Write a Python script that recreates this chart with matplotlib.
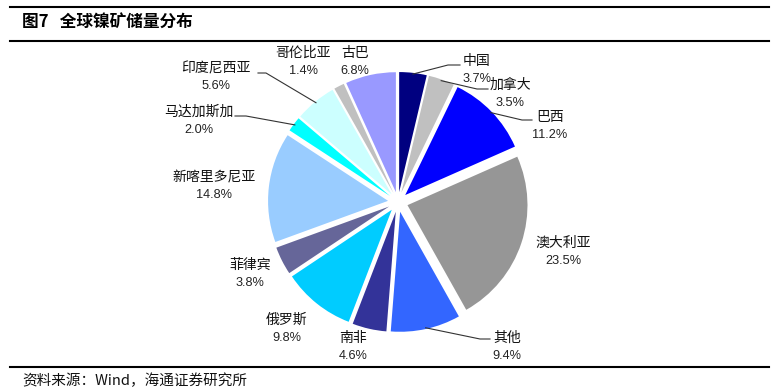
import matplotlib
matplotlib.use("Agg")
import matplotlib.pyplot as plt
from matplotlib.lines import Line2D
import numpy as np

# ---------------- data ----------------
countries = ["中国", "加拿大", "巴西", "澳大利亚", "其他", "南非", "俄罗斯",
             "菲律宾", "新喀里多尼亚", "马达加斯加", "印度尼西亚", "哥伦比亚", "古巴"]
shares = [3.7, 3.5, 11.2, 23.5, 9.4, 4.6, 9.8, 3.8, 14.8, 2.0, 5.6, 1.4, 6.8]
colors = ["#000080", "#C0C0C0", "#0000FF", "#969696", "#3366FF", "#333399", "#00CCFF",
          "#666699", "#99CCFF", "#00FFFF", "#CCFFFF", "#C0C0C0", "#9999FF"]
title = "图7   全球镍矿储量分布"
source = "资料来源：Wind，海通证券研究所"

# ---------------- layout ----------------
W, H, DPI = 781, 391, 100
fig = plt.figure(figsize=(W / DPI, H / DPI), dpi=DPI)
fig.patch.set_facecolor("white")

PX = 120.0           # pixels per pie unit (radius)
cx, cy = 398, 202    # pie centre in pixels (from top-left)
aw, ah = 600, 340
ax = fig.add_axes([(cx - aw / 2) / W, (H - cy - ah / 2) / H, aw / W, ah / H])
explode_frac = 10 / PX
wedges, _ = ax.pie(shares, colors=colors, startangle=90, counterclock=False,
                   explode=[explode_frac] * len(shares), radius=1.0,
                   wedgeprops=dict(linewidth=0))
ax.set_xlim(-aw / 2 / PX, aw / 2 / PX)
ax.set_ylim(-ah / 2 / PX, ah / 2 / PX)
ax.set_aspect("equal")
ax.axis("off")

def to_units(px, py):
    return ((px - cx) / PX, (cy - py) / PX)

# label name-centre positions in pixels (layout)
name_pos = {
    "中国": (477, 61), "加拿大": (510, 85), "巴西": (550, 117), "澳大利亚": (563, 243),
    "其他": (507, 338), "南非": (353, 338), "俄罗斯": (287, 320), "菲律宾": (250, 265),
    "新喀里多尼亚": (214, 177), "马达加斯加": (199, 112), "印度尼西亚": (216, 68),
    "哥伦比亚": (303, 53), "古巴": (355, 53),
}
pct_dy = 18  # px between name and percentage

# leader elbow/end points (pixels), start comes from wedge geometry
leaders = {
    "中国": [(448, 65), (460, 65)],
    "加拿大": [(477, 89), (488, 89)],
    "巴西": [(522, 120), (532, 120)],
    "其他": [(480, 339), (490, 339)],
    "马达加斯加": [(246, 116), (235, 116)],
    "印度尼西亚": [(266, 73), (258, 73)],
}

cjk = ["Noto Sans CJK SC", "DejaVu Sans"]
for w, name, val in zip(wedges, countries, shares):
    nx, ny = name_pos[name]
    ux, uy = to_units(nx, ny)
    ax.text(ux, uy, name, ha="center", va="center", fontsize=10,
            family=cjk, color="#111111", clip_on=False)
    px_, py_ = to_units(nx, ny + pct_dy)
    ax.text(px_, py_, f"{val:.1f}%", ha="center", va="center", fontsize=9.2,
            family="Liberation Sans", color="#222222", clip_on=False)
    if name in leaders:
        mid = np.deg2rad((w.theta1 + w.theta2) / 2)
        wx, wy = w.center
        sx = wx + 0.99 * w.r * np.cos(mid)
        sy = wy + 0.99 * w.r * np.sin(mid)
        pts = [(sx, sy)] + [to_units(*p) for p in leaders[name]]
        xs, ys = zip(*pts)
        ax.add_line(Line2D(xs, ys, color="#333333", lw=0.8, clip_on=False))

# ---------------- frame text & rules ----------------
def hline(ypx, lw=1.5):
    fig.add_artist(Line2D([10 / W, 769 / W], [1 - ypx / H, 1 - ypx / H],
                          color="black", lw=lw, transform=fig.transFigure))

hline(7)
hline(41)
hline(367)
fig.text(22 / W, 1 - 23 / H, title, ha="left", va="center", fontsize=12,
         fontweight="bold", family=cjk, color="black")
fig.text(22 / W, 1 - 381 / H, source, ha="left", va="center", fontsize=10.5,
         family=cjk, color="#111111")

fig.savefig("out.png", dpi=DPI, facecolor="white")
